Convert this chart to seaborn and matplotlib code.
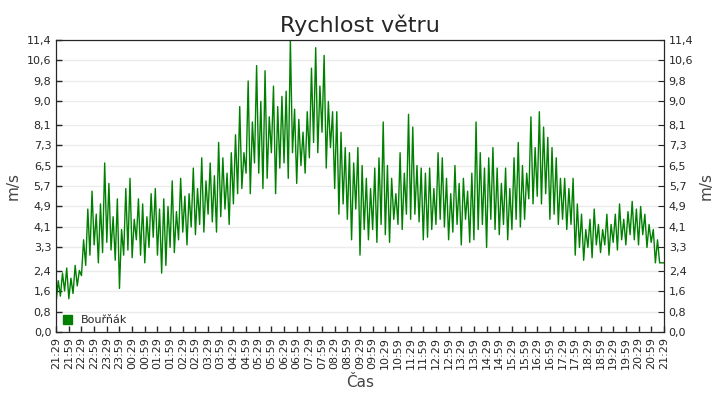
import pandas as pd
import matplotlib.pyplot as plt
import matplotlib.dates as mdates
import seaborn as sns

# wind speed, every 5 minutes from 21:29 (one row per hour)
wind = [
    1.2, 2.0, 1.4, 2.3, 1.6, 2.5, 1.3, 2.1, 1.5, 2.6, 1.8, 2.4,
    2.2, 3.6, 2.6, 4.8, 3.0, 5.5, 3.4, 4.6, 2.7, 5.0, 3.1, 6.6,
    3.5, 5.8, 3.2, 4.5, 2.8, 5.2, 1.7, 4.0, 3.0, 5.6, 3.2, 6.0,
    2.9, 4.4, 3.6, 5.2, 3.0, 5.0, 2.7, 4.5, 3.3, 5.4, 3.7, 5.6,
    3.0, 4.8, 2.3, 5.2, 2.6, 4.9, 3.3, 5.9, 3.1, 4.7, 3.6, 6.0,
    3.9, 5.3, 3.4, 5.4, 4.1, 6.4, 3.8, 5.6, 4.2, 6.8, 3.9, 5.9,
    4.6, 6.6, 4.3, 6.1, 3.9, 7.4, 4.5, 6.8, 4.8, 6.2, 4.2, 7.0,
    5.0, 7.7, 5.4, 8.8, 5.6, 7.0, 6.2, 9.8, 5.4, 8.2, 6.6, 10.4,
    6.2, 9.0, 5.6, 10.2, 6.0, 8.4, 7.0, 9.6, 5.4, 8.8, 6.4, 9.2,
    6.6, 9.4, 6.0, 11.4, 7.0, 8.7, 5.8, 8.3, 6.5, 7.8, 6.2, 8.6,
    6.8, 10.3, 7.4, 11.1, 7.0, 9.6, 7.8, 10.8, 6.4, 9.0, 7.2, 8.6,
    5.6, 8.6, 4.6, 7.8, 5.0, 7.2, 4.4, 7.0, 3.6, 6.6, 4.8, 7.2,
    3.0, 6.5, 4.0, 6.0, 3.6, 5.6, 4.0, 6.4, 3.5, 6.8, 4.2, 8.2,
    3.8, 6.5, 3.5, 6.0, 4.4, 5.4, 4.2, 7.0, 4.0, 6.2, 4.6, 8.5,
    4.4, 8.0, 4.6, 6.5, 4.3, 6.4, 3.6, 6.2, 3.7, 6.4, 4.0, 5.6,
    4.2, 7.0, 4.4, 6.8, 4.1, 6.0, 3.6, 5.4, 3.9, 6.5, 4.2, 5.8,
    3.4, 6.0, 4.4, 5.5, 3.5, 6.2, 3.6, 8.2, 4.0, 7.0, 4.2, 6.4,
    3.3, 6.8, 4.4, 7.2, 4.0, 6.4, 3.8, 5.8, 4.2, 6.4, 3.6, 5.6,
    4.0, 6.8, 4.4, 7.4, 4.1, 6.5, 4.4, 6.2, 5.2, 8.4, 5.0, 7.2,
    5.3, 8.6, 5.0, 8.0, 5.4, 7.6, 4.4, 7.2, 4.6, 6.8, 4.2, 6.0,
    4.4, 6.0, 4.0, 5.6, 4.2, 6.0, 3.0, 5.0, 3.3, 4.6, 2.8, 4.0,
    3.3, 4.4, 2.9, 4.8, 3.4, 4.2, 3.1, 4.0, 3.4, 4.6, 3.0, 4.2,
    3.5, 4.6, 3.2, 5.0, 3.6, 4.4, 3.4, 4.7, 3.8, 5.1, 3.6, 4.8,
    3.4, 4.9, 3.8, 4.6, 3.3, 4.2, 3.5, 4.0, 2.7, 3.6, 2.7, 2.7,
    2.7,
]
times = pd.date_range("2024-01-01 21:29", periods=len(wind), freq="5min")
df = pd.DataFrame({"Čas": times, "m/s": wind})

yticks = [0, 0.8, 1.6, 2.4, 3.3, 4.1, 4.9, 5.7, 6.5, 7.3, 8.1, 9.0, 9.8, 10.6, 11.4]
ylabels = [f"{v:.1f}".replace(".", ",") for v in yticks]

sns.set_style("white")
plt.rcParams["font.family"] = ["DejaVu Sans"]
fig, ax = plt.subplots(figsize=(7.2, 4.0), dpi=100)
sns.lineplot(data=df, x="Čas", y="m/s", color="#008000", lw=1, ax=ax)

ax.set_xlim(times[0], times[-1])
ax.set_ylim(0, 11.4)
ax.set_yticks(yticks)
ax.set_yticklabels(ylabels, fontsize=8)
ax.yaxis.grid(True, color="#ebebeb", lw=1)
ax.xaxis.set_major_locator(mdates.MinuteLocator(byminute=[29, 59]))
ax.xaxis.set_major_formatter(mdates.DateFormatter("%H:%M"))
plt.setp(ax.get_xticklabels(), rotation=90, fontsize=8)
ax.tick_params(direction="in", length=4, width=1, bottom=True, left=True)
ax.set_xlabel("Čas", fontsize=11, color="#444444")
ax.set_ylabel("m/s", fontsize=11, color="#444444")
ax.set_title("Rychlost větru", fontsize=16)
for s in ax.spines.values():
    s.set_color("black")

ax2 = ax.twinx()
ax2.set_ylim(0, 11.4)
ax2.set_yticks(yticks)
ax2.set_yticklabels(ylabels, fontsize=8)
ax2.set_ylabel("m/s", fontsize=11, color="#444444")
ax2.tick_params(direction="in", length=4, right=True)

ax.legend(loc="lower left", frameon=False, fontsize=8, handlelength=0.8,
          handleheight=0.8, borderaxespad=0.2,
          handles=[plt.Rectangle((0, 0), 1, 1, color="#008000")], labels=["Bouřňák"])

fig.subplots_adjust(left=0.078, right=0.922, top=0.9, bottom=0.17)
fig.savefig("out.png", dpi=100)
